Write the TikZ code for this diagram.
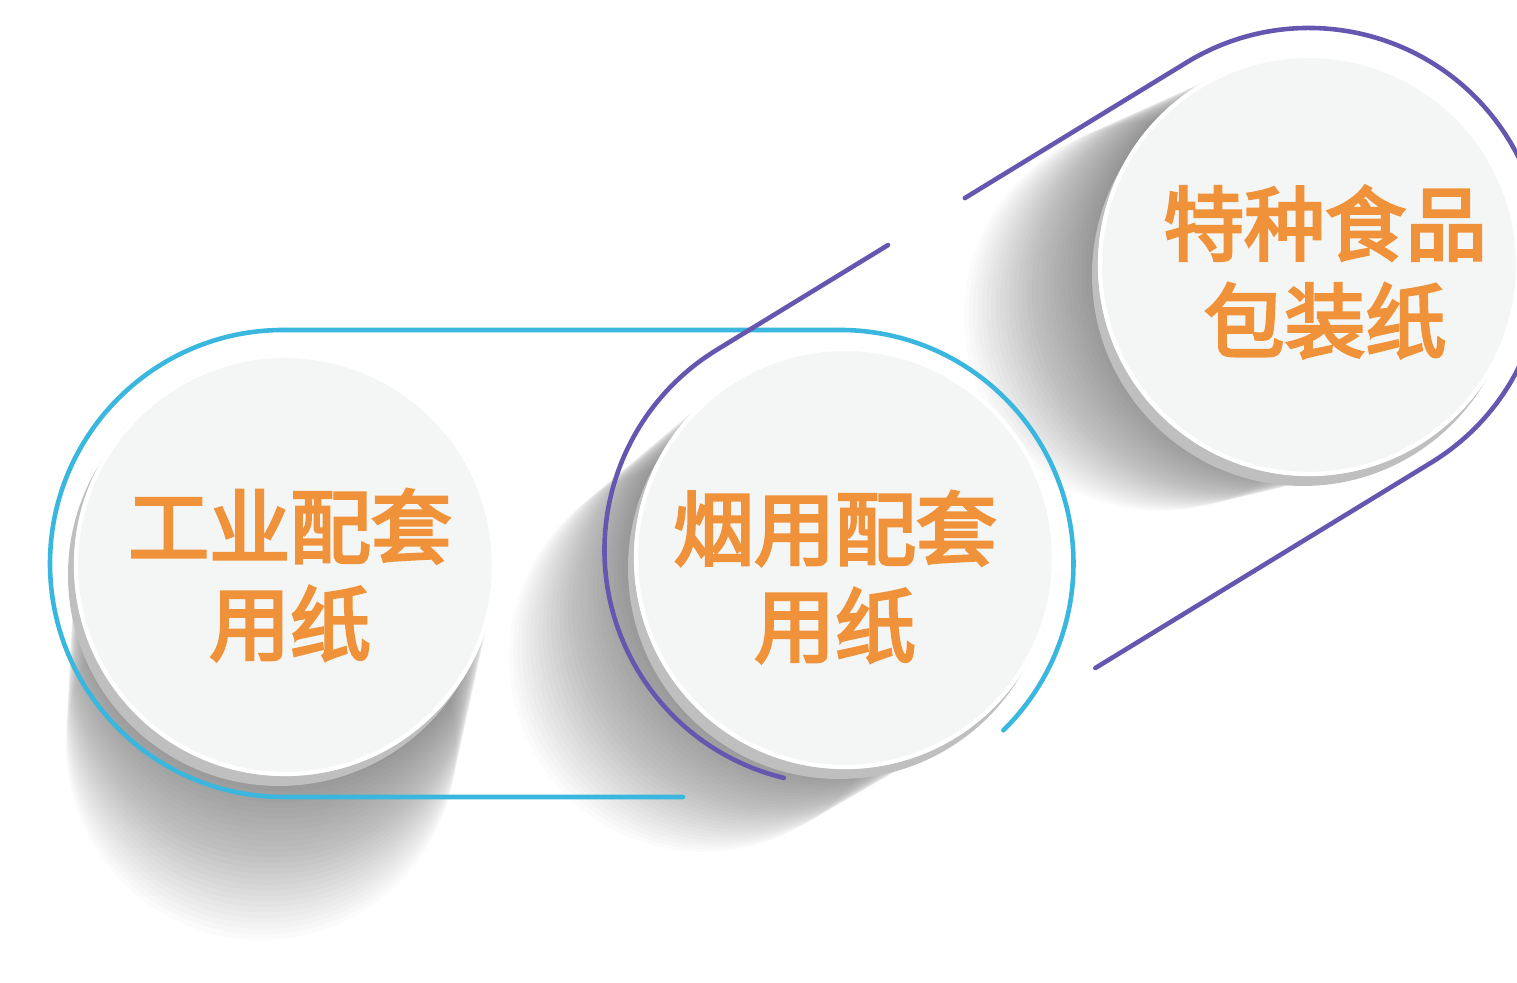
\documentclass[tikz,border=0pt]{standalone}
\usepackage{fontspec}
\newfontfamily\cjk[FakeBold=3.5]{Noto Sans CJK SC}
\usetikzlibrary{calc}

\definecolor{cyanline}{HTML}{3AB7DF}
\definecolor{purpleline}{HTML}{6556B0}
\definecolor{orangetext}{HTML}{F0923A}
\definecolor{faceclr}{HTML}{F4F5F5}

\tikzset{
	disctext/.style={text=orangetext, font=\cjk\fontsize{23}{27.6}\selectfont, align=center, inner sep=0pt},
	ring/.style={line width=1.3pt, line cap=round},
}

\begin{document}
\begin{tikzpicture}[x=0.01cm,y=0.01cm]
	\useasboundingbox (0,0) rectangle (1517,983);
	\fill[white] (0,0) rectangle (1517,983);

	\coordinate (c1) at (285,418);
	\coordinate (c2) at (845,425);
	\coordinate (c3) at (1309,718);
	% centres of the two tilted arcs
	\coordinate (p2) at (839,433);
	\coordinate (p3) at (1309,720.5);

	% long shadows
	\foreach \c/\sx/\sy in {c1/-0.8/-6, c2/-4.7/-3.3, c3/-5/-1.7}{
		\foreach \i in {1,...,30}
			\fill[black, opacity=0.014] ($(\c)+(\i*\sx,\i*\sy)$) circle (210-\i*0.5);
	}

	% cyan ring
	\draw[ring, cyanline] (683,186) -- (283.5,186)
		arc[start angle=270, end angle=90, radius=233.5] -- (840,653)
		arc[start angle=90, end angle=-45.6, radius=233.5];

	% purple ring
	\draw[ring, purpleline] ($(p2)+(256.4:234.5)$)
		arc[start angle=256.4, end angle=121.46, radius=234.5]
		-- ($(p2)+(31.46:201)+(121.46:234.5)$);
	\draw[ring, purpleline] ($(p2)+(31.46:291)+(121.46:234.5)$)
		-- ($(p3)+(121.46:234.5)$)
		arc[start angle=121.46, end angle=-58.54, radius=234.5]
		-- ($(p2)+(31.46:157)+(-58.54:234.5)$);

	% discs
	\foreach \c in {c1,c2,c3}{
		\fill[gray!50] ($(\c)+(-6,-10)$) circle (211);
		\fill[faceclr] (\c) circle (211);
		\draw[white, line width=1.2pt] (\c) circle (209);
	}

	\node[disctext] (ind) at (290,408) {工业配套\\用纸};
	\node[disctext] (tob) at (835,406) {烟用配套\\用纸};
	\node[disctext] (food) at (1325,711) {特种食品\\包装纸};
\end{tikzpicture}
\end{document}
